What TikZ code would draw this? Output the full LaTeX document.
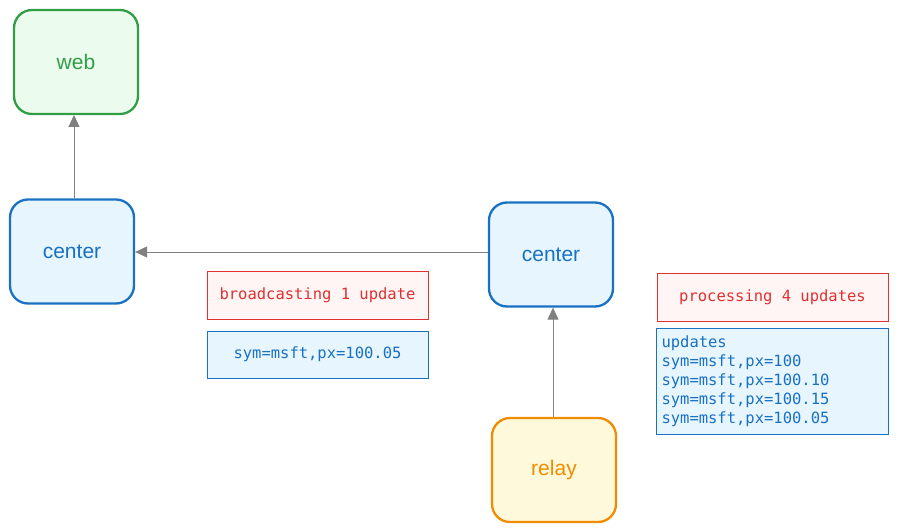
\documentclass[tikz,border=0pt]{standalone}
\usepackage{fontspec}
\setmainfont{Liberation Sans}
\newfontfamily\monof{DejaVu Sans Mono}
\usetikzlibrary{arrows.meta}
\definecolor{gstroke}{HTML}{2F9E44}\definecolor{gfill}{HTML}{EBFBEE}
\definecolor{bstroke}{HTML}{1971C2}\definecolor{bfill}{HTML}{E7F5FF}
\definecolor{ostroke}{HTML}{F08C00}\definecolor{ofill}{HTML}{FFF9DB}
\definecolor{rstroke}{HTML}{E03131}\definecolor{rfill}{HTML}{FFF5F5}
\definecolor{arr}{HTML}{808080}
\tikzset{
  shapebox/.style={draw, line width=2.3pt, rounded corners=18pt, minimum width=124pt, minimum height=104pt, font=\fontsize{21}{25}\selectfont, inner sep=0pt},
  gbox/.style={shapebox, draw=gstroke, fill=gfill, text=gstroke},
  bbox/.style={shapebox, draw=bstroke, fill=bfill, text=bstroke},
  obox/.style={shapebox, draw=ostroke, fill=ofill, text=ostroke},
  note/.style={draw, line width=1pt, inner sep=0pt, font=\monof\fontsize{15.5}{19}\selectfont},
  rnote/.style={note, draw=rstroke, fill=rfill, text=rstroke},
  bnote/.style={note, draw=bstroke, fill=bfill, text=bstroke},
  conn/.style={draw=arr, line width=1pt, -{Triangle[length=12pt,width=11pt]}}
}
\begin{document}
\begin{tikzpicture}[x=1pt,y=-1pt]
\useasboundingbox (0,0) rectangle (899,532);
\node[gbox] (web) at (76,62) {web};
\node[bbox] (c1) at (72,251.5) {center};
\node[bbox] (c2) at (551,254.5) {center};
\node[obox] (relay) at (554,470) {relay};
\node[rnote, minimum width=221pt, minimum height=48pt] (n1) at (317.5,295.5) {broadcasting 1 update};
\node[bnote, minimum width=221pt, minimum height=47pt] (n2) at (317.5,354.5) {sym=msft,px=100.05};
\node[rnote, minimum width=231pt, minimum height=48pt] (n3) at (772.5,297.5) {processing 4 updates};
\node[bnote, minimum width=232pt, minimum height=106pt, align=left, anchor=north west, text width=222pt, inner xsep=5pt, inner ysep=6pt] (n4) at (656,328) {updates\\sym=msft,px=100\\sym=msft,px=100.10\\sym=msft,px=100.15\\sym=msft,px=100.05};
\draw[conn] (c1.north -| 74,0) -- (74,115);
\draw[conn] (c2.west |- 0,252) -- (c1.east |- 0,252);
\draw[conn] (relay.north -| 553,0) -- (c2.south -| 553,0);
\end{tikzpicture}
\end{document}
